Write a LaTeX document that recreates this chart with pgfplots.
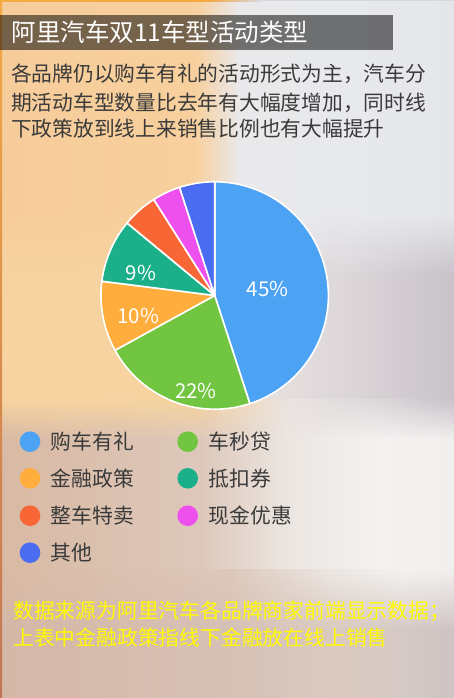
\documentclass[border=0pt]{standalone}
\usepackage{pgfplots}
\pgfplotsset{compat=1.18}
\usepgfplotslibrary{polar}
\usepackage{fontspec}
\setmainfont{Noto Sans CJK SC}

\definecolor{cA}{HTML}{4DA3F3}
\definecolor{cB}{HTML}{72C540}
\definecolor{cC}{HTML}{FFAD3C}
\definecolor{cD}{HTML}{1BB089}
\definecolor{cE}{HTML}{F96636}
\definecolor{cF}{HTML}{EE50EE}
\definecolor{cG}{HTML}{4A6CF1}
% background colours (stops at x = 0, s1, s2, s3, 454)
\definecolor{T0}{HTML}{F6CC9A}\definecolor{T1}{HTML}{F7D09E}\definecolor{T2}{HTML}{E9E9EC}\definecolor{T3}{HTML}{E8E9ED}\definecolor{T4}{HTML}{E4E6EA}
\definecolor{M0}{HTML}{F6D3A0}\definecolor{M1}{HTML}{F6D3A0}\definecolor{M2}{HTML}{E9E3E2}\definecolor{M3}{HTML}{DCD6D9}\definecolor{M4}{HTML}{C8C2CA}
\definecolor{L0}{HTML}{D9B9A3}\definecolor{L1}{HTML}{DDC8BB}\definecolor{L2}{HTML}{ECE6E2}\definecolor{L3}{HTML}{F3F2F0}\definecolor{L4}{HTML}{F1EFED}
\definecolor{B0}{HTML}{D5B7A7}\definecolor{B1}{HTML}{D6C1B6}\definecolor{B2}{HTML}{DAC9BF}\definecolor{B3}{HTML}{D6C9C5}\definecolor{B4}{HTML}{CFC4C4}
\definecolor{bodytext}{HTML}{3A3A3A}
\definecolor{noteyellow}{HTML}{FFFA00}
\definecolor{edgeorange}{HTML}{F6A843}
\definecolor{edgebrown}{HTML}{C07656}
\definecolor{edgegray}{HTML}{D6D8DE}

% #1 colour prefix, #2 ybot, #3 ytop, #4 options, #5 #6 #7 inner x stops
\newcommand\band[7]{%
  \shade[left color=#10,right color=#11,#4] (-1pt,#2pt) rectangle (#5pt+0.5pt,#3pt);
  \shade[left color=#11,right color=#12,#4] (#5pt,#2pt) rectangle (#6pt+0.5pt,#3pt);
  \shade[left color=#12,right color=#13,#4] (#6pt,#2pt) rectangle (#7pt+0.5pt,#3pt);
  \shade[left color=#13,right color=#14,#4] (#7pt,#2pt) rectangle (455pt,#3pt);
}
% vertical blend of two bands in thin strips: #1 upper, #2 lower, #3 ybot, #4 ytop, #5-#7 stops
\newcommand\blendband[7]{%
  \foreach \k in {1,...,16}{%
    \pgfmathsetmacro\pp{100*(\k-0.5)/16}%
    \pgfmathsetmacro\yb{#3+(#4-#3)*(\k-1)/16}%
    \pgfmathsetmacro\yt{#3+(#4-#3)*\k/16+0.4}%
    \colorlet{X0}{#10!\pp!#20}\colorlet{X1}{#11!\pp!#21}\colorlet{X2}{#12!\pp!#22}%
    \colorlet{X3}{#13!\pp!#23}\colorlet{X4}{#14!\pp!#24}%
    \band{X}{\yb}{\yt}{}{#5}{#6}{#7}%
  }%
}

% pie slice: #1 cumulative start (percent), #2 share (percent), #3 colour
\newcommand\pieslice[3]{%
  \addplot[draw=white, line width=1.6pt, line join=round, fill=#3,
    domain=90-3.6*(#1+#2):90-3.6*(#1), samples=120] {1} -- (axis cs:0,0) -- cycle;
}

\begin{document}
\begin{tikzpicture}
\useasboundingbox (0,0) rectangle (454pt,698pt);
\clip (0,0) rectangle (454pt,698pt);
% background
\band{T}{482}{699}{}{195}{240}{350}
\blendband{T}{M}{423}{483}{195}{240}{350}
\band{M}{297}{424}{}{195}{240}{350}
\blendband{M}{L}{258}{298}{200}{290}{380}
\band{L}{127}{259}{}{200}{290}{380}
\blendband{L}{B}{68}{128}{230}{330}{400}
\band{B}{-1}{69}{}{230}{330}{400}
% borders
\fill[edgeorange] (0,696pt) rectangle (210pt,698pt);
\shade[left color=edgeorange, right color=edgegray] (209pt,696pt) rectangle (260pt,698pt);
\fill[edgegray] (259pt,697pt) rectangle (454pt,698pt);
\shade[top color=edgeorange, bottom color=edgebrown] (0,0) rectangle (2pt,698pt);

% title
\fill[black, opacity=0.52] (0,648pt) rectangle (393pt,683pt);
\node[anchor=west, inner sep=0pt, text=white, font=\fontsize{24.5pt}{26pt}\selectfont] at (11.5pt,666.3pt) {阿里汽车双11车型活动类型};
% description
\begin{scope}[every node/.style={anchor=west, inner sep=0pt, text=bodytext, font=\fontsize{20.75pt}{24pt}\selectfont}]
\node at (11pt,624pt) {各品牌仍以购车有礼的活动形式为主，汽车分};
\node at (11pt,595.5pt) {期活动车型数量比去年有大幅度增加，同时线};
\node at (11pt,569pt) {下政策放到线上来销售比例也有大幅提升};
\end{scope}

% pie
\begin{polaraxis}[
  at={(214.7pt,402.5pt)}, anchor=center,
  scale only axis, width=227.4pt, height=227.4pt,
  xmin=0, xmax=360, ymin=0, ymax=1,
  hide axis, clip=false,
]
\pieslice{0}{45}{cA}
\pieslice{45}{22}{cB}
\pieslice{67}{10}{cC}
\pieslice{77}{9}{cD}
\pieslice{86}{5}{cE}
\pieslice{91}{4}{cF}
\pieslice{95}{5}{cG}
\begin{scope}[every node/.style={text=white, inner sep=0pt, font=\fontsize{20.5pt}{22pt}\selectfont}]
\node at (axis cs:6.5,0.469) {45\%};
\node at (axis cs:-101.1,0.854) {22\%};
\node at (axis cs:-165.1,0.695) {10\%};
\node at (axis cs:162.7,0.679) {9\%};
\end{scope}
\end{polaraxis}

% legend
\begin{scope}[every node/.style={anchor=west, inner sep=0pt, text=bodytext, font=\fontsize{20.8pt}{24pt}\selectfont}]
\fill[cA] (30pt,256.3pt) circle (10.3pt); \node at (50.7pt,256.3pt) {购车有礼};
\fill[cB] (187.7pt,256.3pt) circle (10.3pt); \node at (208.7pt,256.3pt) {车秒贷};
\fill[cC] (30pt,219.7pt) circle (10.3pt); \node at (50.7pt,219.7pt) {金融政策};
\fill[cD] (187.7pt,219.7pt) circle (10.3pt); \node at (208.7pt,219.7pt) {抵扣券};
\fill[cE] (30pt,182.3pt) circle (10.3pt); \node at (50.7pt,182.3pt) {整车特卖};
\fill[cF] (187.7pt,182.3pt) circle (10.3pt); \node at (208.7pt,182.3pt) {现金优惠};
\fill[cG] (30pt,145.3pt) circle (10.3pt); \node at (50.7pt,145.3pt) {其他};
\end{scope}

% note
\begin{scope}[every node/.style={anchor=west, inner sep=0pt, text=noteyellow, font=\fontsize{20.8pt}{24pt}\selectfont}]
\node at (13pt,86.3pt) {数据来源为阿里汽车各品牌商家前端显示数据；};
\node at (13pt,60pt) {上表中金融政策指线下金融放在线上销售};
\end{scope}
\end{tikzpicture}
\end{document}
